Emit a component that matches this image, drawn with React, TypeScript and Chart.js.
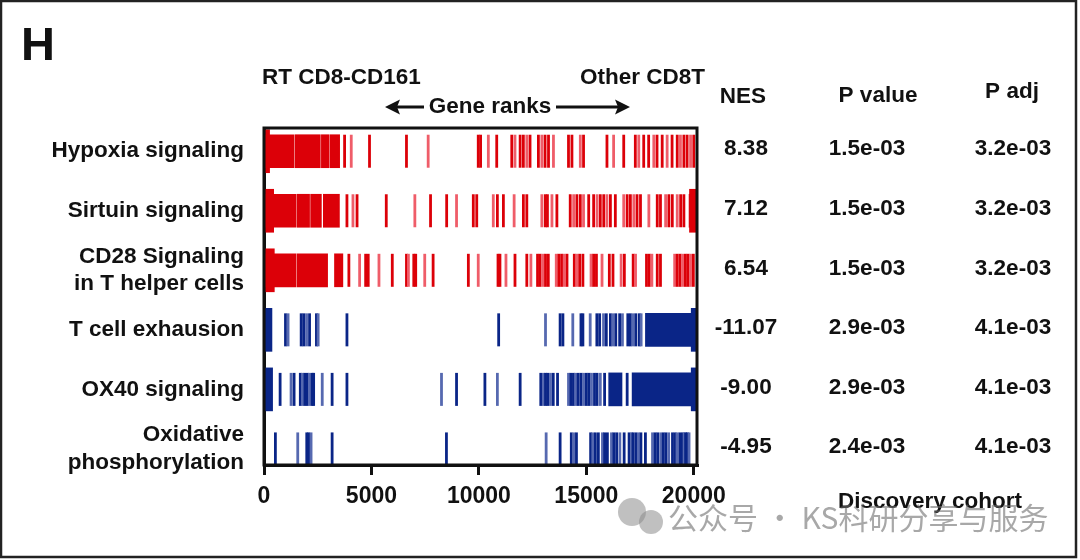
import React, { useEffect, useRef } from "react";
import { Chart, registerables } from "chart.js";

Chart.register(...registerables);

const FONT = '"Liberation Sans", Arial, Helvetica, sans-serif';

// ---------- data ----------
const rowLabels: (string | string[])[] = [
  "Hypoxia signaling",
  "Sirtuin signaling",
  ["CD28 Signaling", "in T helper cells"],
  "T cell exhausion",
  "OX40 signaling",
  ["Oxidative", "phosphorylation"],
];
const nesValues = ["8.38", "7.12", "6.54", "-11.07", "-9.00", "-4.95"];
const pValues = ["1.5e-03", "1.5e-03", "1.5e-03", "2.9e-03", "2.9e-03", "2.4e-03"];
const pAdjValues = ["3.2e-03", "3.2e-03", "3.2e-03", "4.1e-03", "4.1e-03", "4.1e-03"];
const upRegulated = [true, true, true, false, false, false];
const xTickValues = [0, 5000, 10000, 15000, 20000];

// gene-rank hits (single lines)
const hypoxiaHits = [3750, 4060, 4910, 6630, 7640, 9970, 10080, 10440, 10830, 11530, 11680, 11920, 12070, 12230, 12380, 12770, 12930, 13080, 13240, 13470, 14170, 14330, 14720, 14870, 15960, 16270, 16740, 17280, 17440, 17670, 17900, 18140, 18290, 18530, 18760, 18990, 19230, 19380, 19540, 19690, 19850, 20000];
const sirtuinHits = [3860, 4140, 4330, 5690, 7020, 7750, 8500, 8960, 9740, 9900, 10670, 10860, 11140, 11640, 12070, 12230, 12930, 13090, 13190, 13400, 13630, 14250, 14410, 14560, 14720, 14870, 15110, 15340, 15500, 15650, 15810, 15960, 16120, 16350, 16740, 16900, 17050, 17210, 17360, 17520, 17910, 18300, 18450, 18690, 18840, 19000, 19230, 19390, 19540];
const cd28Hits = [3950, 4450, 4730, 4850, 5350, 5970, 6630, 6720, 6970, 7060, 7480, 7870, 9510, 9970, 10890, 10980, 11260, 11680, 12230, 12420, 12730, 12850, 12980, 13100, 13230, 13600, 13720, 13850, 13970, 14100, 14440, 14560, 14690, 14840, 15220, 15340, 15470, 15730, 16070, 16240, 16620, 16770, 17180, 17290, 17800, 17930, 18050, 18300, 18450, 19110, 19230, 19360, 19480, 19610, 19730, 19850, 19980];
const exhaustionHits = [1000, 1120, 1730, 1850, 1980, 2120, 2440, 2520, 3860, 10920, 13100, 13780, 13910, 14370, 14750, 14840, 15180, 15490, 15620, 15800, 15930, 16120, 16240, 16370, 16550, 16680, 16930, 17050, 17170, 17300, 17460, 17550];
const ox40Hits = [750, 1260, 1400, 1690, 1790, 1900, 2010, 2120, 2240, 2310, 2710, 3170, 3860, 8260, 8960, 10280, 10860, 11920, 12880, 13000, 13100, 13200, 13330, 13460, 13660, 14170, 14280, 14400, 14500, 14620, 14750, 14870, 15000, 15120, 15240, 15380, 15500, 15650, 15850, 16900];
const oxphosHits = [530, 1570, 1990, 2080, 2190, 3170, 8490, 13130, 13780, 14300, 14420, 14540, 15200, 15300, 15420, 15560, 15750, 15850, 15980, 16170, 16280, 16410, 16560, 16760, 16990, 17100, 17170, 17300, 17420, 17540, 17750, 18080, 18200, 18320, 18460, 18580, 18700, 18830, 19010, 19130, 19220, 19350, 19470, 19550, 19620, 19700, 19780];

// dense runs of hits (rank ranges)
const hypoxiaBlocks: [number, number][] = [[0, 1400], [1450, 2620], [2670, 3010], [3060, 3520]];
const sirtuinBlocks: [number, number][] = [[0, 1500], [1550, 2120], [2170, 2670], [2760, 3510], [19780, 20090]];
const cd28Blocks: [number, number][] = [[0, 1480], [1530, 2960], [3280, 3670]];
const exhaustionBlocks: [number, number][] = [[17750, 20080]];
const ox40Blocks: [number, number][] = [[16040, 16660], [17130, 20080]];
const oxphosBlocks: [number, number][] = [];

// leading / trailing edge hits (drawn taller)
const hypoxiaEdges: [number, number][] = [[0, 260]];
const sirtuinEdges: [number, number][] = [[0, 450], [19800, 20100]];
const cd28Edges: [number, number][] = [[0, 480]];
const exhaustionEdges: [number, number][] = [[0, 370], [19880, 20100]];
const ox40Edges: [number, number][] = [[0, 400], [19880, 20100]];
const oxphosEdges: [number, number][] = [];

const rowHits = [hypoxiaHits, sirtuinHits, cd28Hits, exhaustionHits, ox40Hits, oxphosHits];
const rowBlocks = [hypoxiaBlocks, sirtuinBlocks, cd28Blocks, exhaustionBlocks, ox40Blocks, oxphosBlocks];
const rowEdges = [hypoxiaEdges, sirtuinEdges, cd28Edges, exhaustionEdges, ox40Edges, oxphosEdges];

// ---------- styles ----------
const RED_DARK = "#dc0008";
const RED_LIGHT = "#ef5d69";
const BLUE_DARK = "#0a2587";
const BLUE_LIGHT = "#5669b0";

const annotate = {
  id: "annotate",
  afterDraw(chart: any) {
    const { ctx, chartArea, scales } = chart;
    const ys = scales.y;
    ctx.save();

    // plot frame
    ctx.strokeStyle = "#111";
    ctx.lineWidth = 3;
    ctx.strokeRect(chartArea.left, chartArea.top, chartArea.right - chartArea.left, chartArea.bottom - chartArea.top);

    const txt = (s: string, x: number, y: number, size: number, align: CanvasTextAlign = "left", color = "#111", weight = "bold", family = FONT) => {
      ctx.font = `${weight} ${size}px ${family}`;
      ctx.fillStyle = color;
      ctx.textAlign = align;
      ctx.textBaseline = "middle";
      ctx.fillText(s, x, y);
    };

    // panel letter
    txt("H", 21, 47, 47);

    // headers above plot
    txt("RT CD8-CD161", 262, 78, 22.5);
    txt("Other CD8T", 705, 78, 22.5, "right");
    txt("Gene ranks", 490, 107, 22.5, "center");

    // arrows
    ctx.strokeStyle = "#111";
    ctx.fillStyle = "#111";
    ctx.lineWidth = 3;
    ctx.beginPath();
    ctx.moveTo(396, 107);
    ctx.lineTo(424, 107);
    ctx.moveTo(556, 107);
    ctx.lineTo(620, 107);
    ctx.stroke();
    ctx.beginPath();
    ctx.moveTo(385, 107);
    ctx.lineTo(400, 99.5);
    ctx.lineTo(397, 107);
    ctx.lineTo(400, 114.5);
    ctx.closePath();
    ctx.fill();
    ctx.beginPath();
    ctx.moveTo(630, 107);
    ctx.lineTo(615, 99.5);
    ctx.lineTo(618, 107);
    ctx.lineTo(615, 114.5);
    ctx.closePath();
    ctx.fill();

    // table
    txt("NES", 743, 97, 22.5, "center");
    txt("P value", 878, 96, 22.5, "center");
    txt("P adj", 1012, 92, 22.5, "center");
    for (let i = 0; i < nesValues.length; i++) {
      const py = ys.getPixelForValue(i) - 2;
      txt(nesValues[i], 746, py, 22.5, "center");
      txt(pValues[i], 867, py, 22.5, "center");
      txt(pAdjValues[i], 1013, py, 22.5, "center");
    }

    txt("Discovery cohort", 930, 502, 22.5, "center");

    // watermark
    ctx.fillStyle = "rgba(140,140,140,0.55)";
    ctx.beginPath();
    ctx.arc(632, 512, 14, 0, Math.PI * 2);
    ctx.fill();
    ctx.beginPath();
    ctx.arc(651, 522, 12, 0, Math.PI * 2);
    ctx.fill();
    txt("公众号 · KS科研分享与服务", 668, 518, 30, "left", "rgba(110,110,110,0.6)", "normal", '"Noto Sans CJK SC", sans-serif');

    // outer frame
    ctx.strokeStyle = "#222";
    ctx.lineWidth = 2.5;
    ctx.strokeRect(1, 1, 1075, 556);

    ctx.restore();
  },
};

export default function App() {
  const canvasRef = useRef<HTMLCanvasElement | null>(null);

  useEffect(() => {
    if (!canvasRef.current) return;

    const edgeData: any[] = [];
    const edgeColors: string[] = [];
    const blockData: any[] = [];
    const blockColors: string[] = [];
    rowEdges.forEach((list, r) =>
      list.forEach(([a, b]) => {
        edgeData.push({ x: [a, b], y: r });
        edgeColors.push(upRegulated[r] ? RED_DARK : BLUE_DARK);
      })
    );
    rowBlocks.forEach((list, r) =>
      list.forEach(([a, b]) => {
        blockData.push({ x: [a, b], y: r });
        blockColors.push(upRegulated[r] ? RED_DARK : BLUE_DARK);
      })
    );

    const hitSets = rowHits.map((hits, r) => {
      const colors = hits.map((_, i) =>
        upRegulated[r] ? (i % 3 === 1 ? RED_LIGHT : RED_DARK) : i % 3 === 1 ? BLUE_LIGHT : BLUE_DARK
      );
      return {
        type: "scatter" as const,
        label: typeof rowLabels[r] === "string" ? (rowLabels[r] as string) : (rowLabels[r] as string[]).join(" "),
        data: hits.map((v) => ({ x: v, y: r })),
        pointStyle: "line",
        pointRotation: 90,
        pointRadius: 16.5,
        pointHoverRadius: 16.5,
        pointBorderWidth: 2.8,
        pointHoverBorderWidth: 2.8,
        pointBorderColor: colors,
        pointBackgroundColor: colors,
        showLine: false,
        order: 1,
      };
    });

    const chart = new Chart(canvasRef.current, {
      type: "scatter",
      data: {
        datasets: [
          {
            type: "bar",
            label: "edges",
            data: edgeData,
            indexAxis: "y",
            grouped: false,
            barThickness: 43,
            backgroundColor: edgeColors,
            borderWidth: 0,
            order: 3,
          } as any,
          {
            type: "bar",
            label: "blocks",
            data: blockData,
            indexAxis: "y",
            grouped: false,
            barThickness: 33,
            backgroundColor: blockColors,
            borderWidth: 0,
            order: 2,
          } as any,
          ...(hitSets as any[]),
        ],
      },
      options: {
        animation: false,
        responsive: true,
        maintainAspectRatio: false,
        events: [],
        layout: { padding: { left: 0, top: 128, right: 383, bottom: 0 } },
        plugins: {
          legend: { display: false },
          tooltip: { enabled: false },
        },
        scales: {
          x: {
            type: "linear",
            min: 0,
            max: 20150,
            offset: false,
            afterBuildTicks: (s: any) => {
              s.ticks = xTickValues.map((v) => ({ value: v }));
            },
            afterFit: (s: any) => {
              s.height = 95;
            },
            grid: {
              display: true,
              drawOnChartArea: false,
              drawTicks: true,
              tickLength: 10,
              tickWidth: 3,
              tickColor: "#111",
              lineWidth: 3,
              color: "#111",
              offset: false,
            },
            border: { display: true, width: 3, color: "#111" },
            ticks: {
              font: { family: FONT, size: 23, weight: "bold" },
              color: "#111",
              padding: 8,
              maxRotation: 0,
              autoSkip: false,
              callback: (v: any) => String(v),
            },
          },
          y: {
            type: "linear",
            min: -0.39,
            max: 5.27,
            reverse: true,
            offset: false,
            afterBuildTicks: (s: any) => {
              s.ticks = rowLabels.map((_, i) => ({ value: i }));
            },
            afterFit: (s: any) => {
              s.width = 264;
            },
            grid: { display: false, drawTicks: false, offset: false },
            border: { display: true, width: 3, color: "#111" },
            ticks: {
              font: { family: FONT, size: 22.5, weight: "bold", lineHeight: 1.22 },
              color: "#111",
              padding: 20,
              crossAlign: "near",
              autoSkip: false,
              callback: (v: any) => rowLabels[v as number] as any,
            },
          },
        },
      } as any,
      plugins: [annotate],
    });

    return () => chart.destroy();
  }, []);

  return (
    <div style={{ position: "fixed", left: 0, top: 0, width: 1080, height: 560, background: "#fff" }}>
      <canvas ref={canvasRef} />
    </div>
  );
}
